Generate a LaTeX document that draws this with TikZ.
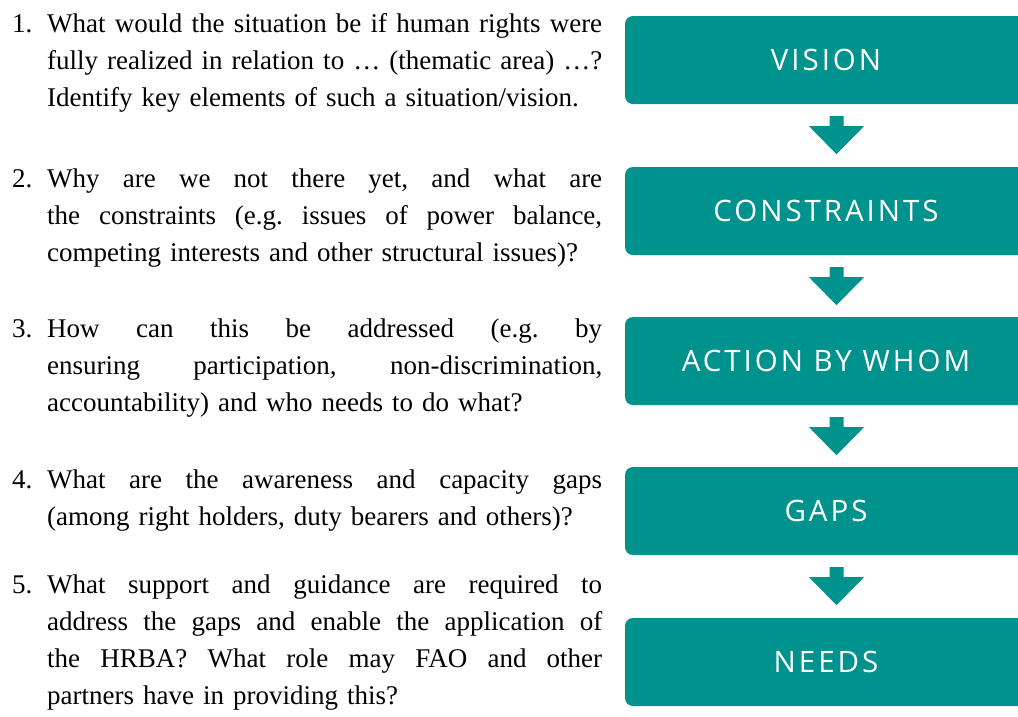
\documentclass[tikz,border=0pt]{standalone}
\usepackage{fontspec}
\setmainfont{Liberation Serif}
\newfontfamily\stagefont{Open Sans}[LetterSpace=10]
\usetikzlibrary{calc}
\definecolor{hrteal}{RGB}{0,146,141}
% one fully justified line of a question (font glue restored so it can stretch)
\newcommand\jline[1]{{\spaceskip=0pt\xspaceskip=0pt\makebox[555pt][s]{#1}}}
\begin{document}
\frenchspacing
\begin{tikzpicture}[x=1pt,y=-1pt,
  stagebox/.style={fill=hrteal, rounded corners=8pt, minimum width=402pt,
    minimum height=88pt, inner sep=0pt, text=white,
    font=\stagefont\fontsize{29.5}{32}\selectfont},
  question/.style={anchor=base west, text width=555pt, align=left,
    inner sep=0pt, font=\fontsize{27}{37}\selectfont},
  qnum/.style={anchor=base west, inner sep=0pt, font=\fontsize{27}{37}\selectfont},
  flowarrow/.style={fill=hrteal}]
\useasboundingbox (0,0) rectangle (1018,716);

% stages
\node[stagebox] (b1) at (826,60)  {VISION};
\node[stagebox] (b2) at (826,211) {CONSTRAINTS};
\node[stagebox] (b3) at (826,361) {ACTION BY WHOM};
\node[stagebox] (b4) at (826,511) {GAPS};
\node[stagebox] (b5) at (826,662) {NEEDS};

% block arrows between consecutive stages
\foreach \a in {b1,b2,b3,b4}{
  \fill[flowarrow] ($(\a.south)+(3.5,12)$) -- ++(14,0) -- ++(0,10) -- ++(20.5,0)
    -- ++(-27.5,28) -- ++(-27.5,-28) -- ++(20.5,0) -- cycle;
}

% questions
\node[qnum] (n1) at (12,32) {1.};
\node[question] (q1) at (47,32) {\jline{What would the situation be if human rights were}\\
  \jline{fully realized in relation to … (thematic area) …?}\\
  Identify key elements of such a situation/vision.};

\node[qnum] (n2) at (12,187) {2.};
\node[question] (q2) at (47,187) {\jline{Why are we not there yet, and what are}\\
  \jline{the constraints (e.g. issues of power balance,}\\
  competing interests and other structural issues)?};

\node[qnum] (n3) at (12,337) {3.};
\node[question] (q3) at (47,337) {\jline{How can this be addressed (e.g. by}\\
  \jline{ensuring participation, non-discrimination,}\\
  accountability) and who needs to do what?};

\node[qnum] (n4) at (12,488) {4.};
\node[question] (q4) at (47,488) {\jline{What are the awareness and capacity gaps}\\
  (among right holders, duty bearers and others)?};

\node[qnum] (n5) at (12,593) {5.};
\node[question] (q5) at (47,593) {\jline{What support and guidance are required to}\\
  \jline{address the gaps and enable the application of}\\
  \jline{the HRBA? What role may FAO and other}\\
  partners have in providing this?};
\end{tikzpicture}
\end{document}
